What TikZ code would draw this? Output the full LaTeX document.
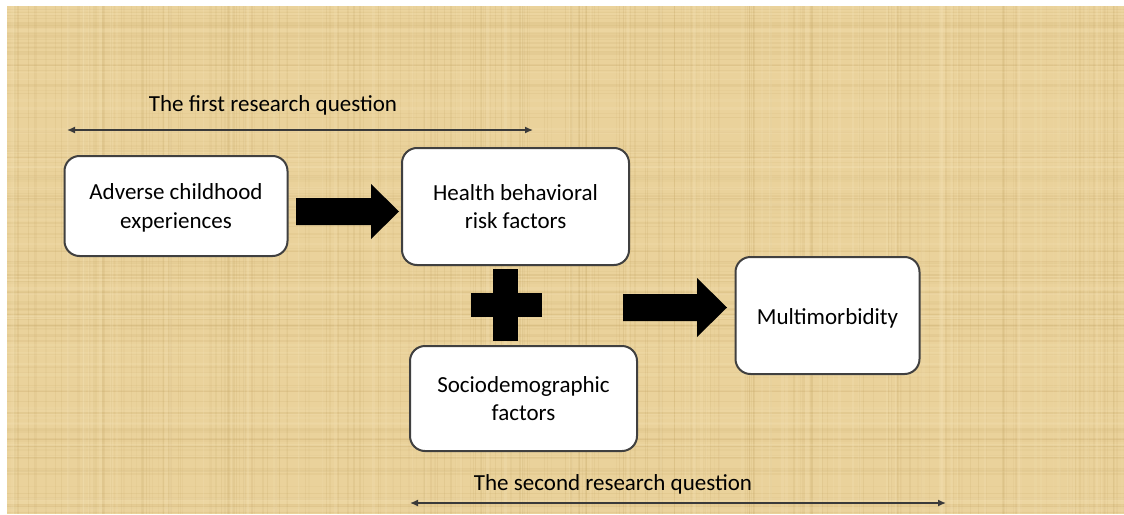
\documentclass[tikz,border=0pt]{standalone}
\usepackage{fontspec}
\setmainfont{Carlito}
\usetikzlibrary{arrows.meta}
\definecolor{papyrus}{RGB}{234,210,155}
\definecolor{fibdark}{RGB}{196,165,100}
\definecolor{fiblight}{RGB}{248,232,190}
\definecolor{edgegray}{RGB}{64,64,64}
\definecolor{linegray}{RGB}{58,58,58}
\newcommand{\lowertext}[2]{\raisebox{-#1}[\height][\depth]{\begin{tabular}{@{}c@{}}#2\end{tabular}}}
\tikzset{
  box/.style={draw=edgegray, line width=2pt, fill=white, rounded corners=15pt, align=center,
    font=\fontsize{23}{28.5}\selectfont, inner sep=0pt},
  label/.style={font=\fontsize{23}{28}\selectfont, inner sep=0pt},
  span/.style={draw=linegray, line width=1.4pt, {Latex[length=8pt,width=7pt]}-{Latex[length=8pt,width=7pt]}},
  blk/.style={fill=black, draw=none}
}
\begin{document}
\begin{tikzpicture}[x=1pt,y=-1pt]
\useasboundingbox (0,0) rectangle (1124,514);
\fill[white] (0,0) rectangle (1124,514);
\fill[papyrus] (7,6) rectangle (1124,514);
% papyrus fibres
\pgfmathsetseed{42}
\begin{scope}
\clip (7,6) rectangle (1124,514);
\foreach \i in {1,...,220}{
  \pgfmathsetmacro\xx{7+rnd*1117}
  \pgfmathsetmacro\ww{0.4+rnd*1.6}
  \pgfmathsetmacro\oo{0.06+rnd*0.14}
  \draw[fibdark, opacity=\oo, line width=\ww pt] (\xx,6) -- (\xx,514);
}
\foreach \i in {1,...,150}{
  \pgfmathsetmacro\yy{6+rnd*508}
  \pgfmathsetmacro\ww{0.4+rnd*1.6}
  \pgfmathsetmacro\oo{0.06+rnd*0.12}
  \draw[fibdark, opacity=\oo, line width=\ww pt] (7,\yy) -- (1124,\yy);
}
\foreach \i in {1,...,90}{
  \pgfmathsetmacro\xx{7+rnd*1117}
  \pgfmathsetmacro\ww{0.8+rnd*2.5}
  \pgfmathsetmacro\oo{0.08+rnd*0.14}
  \draw[fiblight, opacity=\oo, line width=\ww pt] (\xx,6) -- (\xx,514);
}
\foreach \i in {1,...,60}{
  \pgfmathsetmacro\yy{6+rnd*508}
  \pgfmathsetmacro\ww{0.8+rnd*2.5}
  \pgfmathsetmacro\oo{0.08+rnd*0.12}
  \draw[fiblight, opacity=\oo, line width=\ww pt] (7,\yy) -- (1124,\yy);
}
\end{scope}

% boxes
\node[box, minimum width=223pt, minimum height=100pt] (ace) at (176,206) {\lowertext{2.5pt}{Adverse childhood\\experiences}};
\node[box, minimum width=227pt, minimum height=117pt] (hbr) at (515.5,206.5) {Health behavioral\\risk factors};
\node[box, minimum width=227pt, minimum height=105pt] (soc) at (523.5,398.5) {Sociodemographic\\factors};
\node[box, minimum width=184pt, minimum height=117pt] (mm) at (827.5,315.5) {\lowertext{3pt}{Multimorbidity}};

% block arrow between ACE and health behaviour
\fill[blk] (296,198) -- (371,198) -- (371,184) -- (399,211.5) -- (371,239) -- (371,225) -- (296,225) -- cycle;
% plus sign
\fill[blk] (493,269) rectangle (518,341);
\fill[blk] (471,293) rectangle (542,317);
% block arrow to multimorbidity
\fill[blk] (623,294) -- (697,294) -- (697,278) -- (727,307.5) -- (697,337) -- (697,321) -- (623,321) -- cycle;

% research question spans
\node[label] (q1) at (273,105) {The first research question};
\coordinate (q1l) at (67,130);
\coordinate (q1r) at (533,130);
\draw[span] (q1l) -- (q1r);
\node[label] (q2) at (613,484) {The second research question};
\coordinate (q2l) at (410,503);
\coordinate (q2r) at (946,503);
\draw[span] (q2l) -- (q2r);
\end{tikzpicture}
\end{document}
